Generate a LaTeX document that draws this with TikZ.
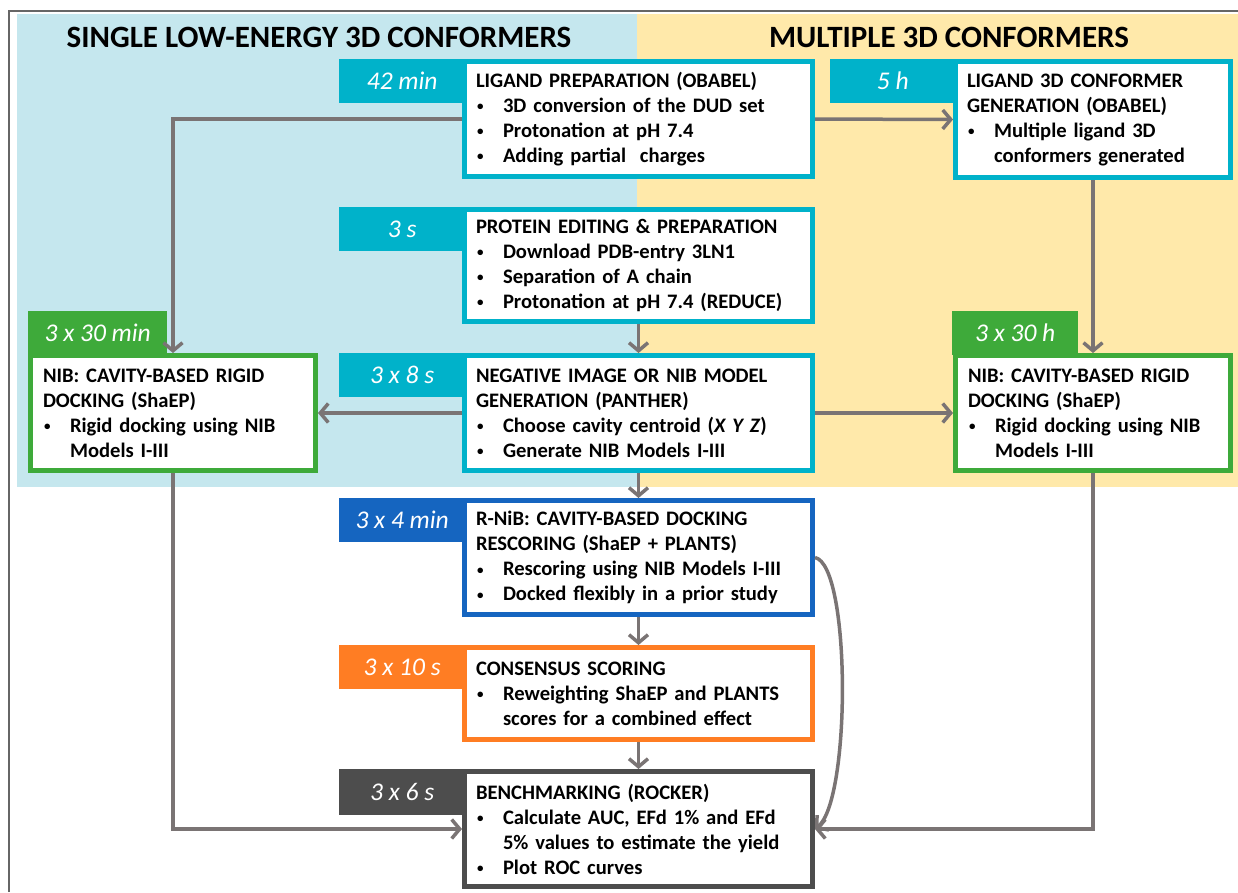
\documentclass[tikz,border=0pt]{standalone}
\usepackage{fontspec}
\setmainfont{Carlito}
\usetikzlibrary{arrows.meta}

\definecolor{tealc}{RGB}{0,178,202}
\definecolor{greenc}{RGB}{62,170,58}
\definecolor{bluec}{RGB}{21,101,192}
\definecolor{orangec}{RGB}{255,125,35}
\definecolor{darkc}{RGB}{77,77,77}
\definecolor{arrowc}{RGB}{122,116,116}
\definecolor{bgblue}{RGB}{197,231,238}
\definecolor{bgyellow}{RGB}{255,233,170}

\newcommand{\bul}{\makebox[27pt][l]{\hspace*{1pt}\raisebox{1.5pt}{\fontsize{13}{13}\selectfont\textbullet}}}
\newcommand{\cont}{\hspace*{27pt}}

\begin{document}
\begin{tikzpicture}[x=1pt,y=-1pt,
    box/.style={draw,line width=5pt,fill=white,anchor=north west,
      inner xsep=11.5pt,inner ysep=0pt,align=left,
      font=\fontsize{20.6}{25}\selectfont\bfseries},
    tab/.style={anchor=north west,inner sep=0pt,minimum height=44pt,
      text=white,font=\fontsize{25.5}{28}\selectfont\itshape},
    arr/.style={draw=arrowc,line width=3.5pt,
      -{Straight Barb[length=8pt,width=19pt]}}]
  \useasboundingbox (0,0) rectangle (1238,892);
  \fill[bgblue] (17,14) rectangle (637,487);
  \fill[bgyellow] (637,14) rectangle (1238,487);
  \draw[black!60,line width=1.2pt] (9,892) -- (9,11) -- (1238,11);
  \node[font=\fontsize{31}{34}\selectfont\bfseries] (title1) at (319,37) {SINGLE LOW-ENERGY 3D CONFORMERS};
  \node[font=\fontsize{31}{34}\selectfont\bfseries] (title2) at (949,37) {MULTIPLE 3D CONFORMERS};

  % time tabs
  \node[tab,fill=tealc,minimum width=126pt] (ligtime) at (339,59) {42 min};
  \node[tab,fill=tealc,minimum width=125pt] (conftime) at (830,59) {5 h};
  \node[tab,fill=tealc,minimum width=126pt] (prottime) at (339,207) {3 s};
  \node[tab,fill=tealc,minimum width=126pt] (nibtime) at (339,353) {3 x 8 s};
  \node[tab,fill=greenc,minimum width=139pt] (nibLtime) at (28,311) {3 x 30 min};
  \node[tab,fill=greenc,minimum width=126pt] (nibRtime) at (952,311) {3 x 30 h};
  \node[tab,fill=bluec,minimum width=126pt] (rnibtime) at (339,498) {3 x 4 min};
  \node[tab,fill=orangec,minimum width=126pt] (constime) at (339,645) {3 x 10 s};
  \node[tab,fill=darkc,minimum width=126pt,minimum height=46pt] (benchtime) at (339,769) {3 x 6 s};

  % boxes
  \node[box,draw=tealc,minimum width=348pt,text width=325pt,minimum height=115pt] (lig) at (462,59)
    {LIGAND PREPARATION (OBABEL)\\\bul 3D conversion of the DUD set\\\bul Protonation at pH 7.4\\\bul Adding partial\ \ charges};
  \node[box,draw=tealc,minimum width=275pt,text width=252pt,minimum height=116pt] (conf) at (953,59)
    {LIGAND 3D CONFORMER\\GENERATION (OBABEL)\\\bul Multiple ligand 3D\\\cont conformers generated};
  \node[box,draw=tealc,minimum width=348pt,text width=325pt,minimum height=112pt] (prot) at (462,207)
    {PROTEIN EDITING \& PREPARATION\\\bul Download PDB-entry 3LN1\\\bul Separation of A chain\\\bul Protonation at pH 7.4 (REDUCE)};
  \node[box,draw=tealc,minimum width=348pt,text width=325pt,minimum height=115pt] (nib) at (462,353)
    {NEGATIVE IMAGE OR NIB MODEL\\GENERATION (PANTHER)\\\bul Choose cavity centroid (\textit{X Y Z})\\\bul Generate NIB Models I-III};
  \node[box,draw=greenc,minimum width=285pt,text width=260pt,inner xsep=12.5pt,minimum height=115pt] (nibL) at (28,353)
    {NIB: CAVITY-BASED RIGID\\DOCKING (ShaEP)\\\bul Rigid docking using NIB\\\cont Models I-III};
  \node[box,draw=greenc,minimum width=275pt,text width=250pt,inner xsep=12.5pt,minimum height=115pt] (nibR) at (953,353)
    {NIB: CAVITY-BASED RIGID\\DOCKING (ShaEP)\\\bul Rigid docking using NIB\\\cont Models I-III};
  \node[box,draw=bluec,minimum width=348pt,text width=325pt,minimum height=114pt] (rnib) at (462,498)
    {R-NiB: CAVITY-BASED DOCKING\\RESCORING (ShaEP + PLANTS)\\\bul Rescoring using NIB Models I-III\\\bul Docked flexibly in a prior study};
  \node[box,draw=orangec,minimum width=348pt,text width=325pt,minimum height=92pt] (cons) at (462,645)
    {CONSENSUS SCORING\\\bul Reweighting ShaEP and PLANTS\\\cont scores for a combined effect};
  \node[box,draw=darkc,minimum width=348pt,text width=325pt,minimum height=115pt] (bench) at (462,769)
    {BENCHMARKING (ROCKER)\\\bul Calculate AUC, EFd 1\% and EFd\\\cont 5\% values to estimate the yield\\\bul Plot ROC curves};

  % connectors
  \draw[arr] (lig.west) -| (nibL.north);
  \draw[arr] (lig.east) -- (conf.west);
  \draw[arr] (conf.south) -- (nibR.north);
  \draw[arr] (prot.south) -- (nib.north);
  \draw[arr] (nib.west) -- (nibL.east);
  \draw[arr] (nib.east) -- (nibR.west);
  \draw[arr] (nib.south) -- (rnib.north);
  \draw[arr] (rnib.south) -- (cons.north);
  \draw[arr] (cons.south) -- (bench.north);
  \draw[arr] (nibL.south) |- (bench.west);
  \draw[arr] (nibR.south) |- (bench.east);
  \draw[arr] (rnib.east) .. controls (851,565) and (851,800) .. (bench.east);
\end{tikzpicture}
\end{document}
